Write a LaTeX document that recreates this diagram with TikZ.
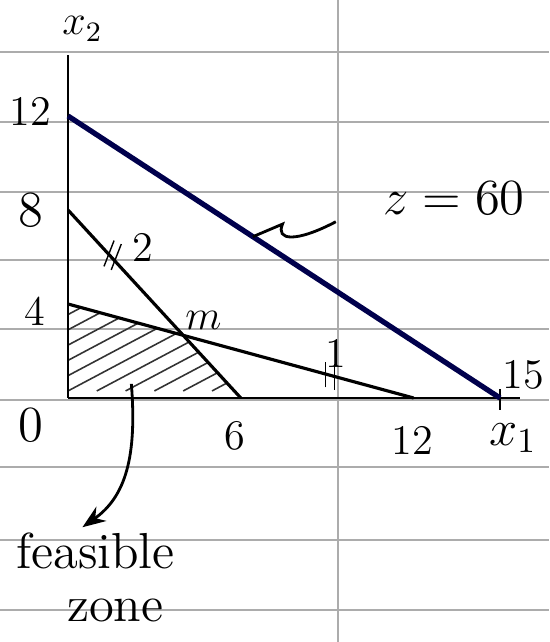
\documentclass[tikz,border=0pt]{standalone}
\usepackage{amsmath, amssymb}
\usepackage{xcolor}
\usepackage{tikz}
\usetikzlibrary{calc, positioning, arrows.meta}

\begin{document}
\begin{tikzpicture}[>=Stealth,
    paper/.style={gray!65, line width=0.5pt},
    axis/.style={black, thick},
    constr/.style={black, line width=0.9pt},
    objline/.style={blue!30!black, line width=1.5pt},
    hatch/.style={black!80, line width=0.45pt},
    lbl/.style={font=\large, inner sep=1pt},
    biglbl/.style={font=\Large, inner sep=1pt}]
    \useasboundingbox (0,0) rectangle (5.49,6.42);

    % 1. Giấy kẻ dòng
    \foreach \yy in {5.90,5.20,4.50,3.82,3.13,2.42,1.75,1.02,0.32}
        \draw[paper] (0,\yy) -- (5.49,\yy);
    \draw[paper] (3.38,0) -- (3.38,6.42);

    \begin{scope}[shift={(0.68,2.44)}, x=0.288cm, y=0.235cm]
    % 2. Các điểm chính
    \coordinate (O) at (0,0);
    \coordinate (A12) at (0,12);
    \coordinate (A8) at (0,8);
    \coordinate (A4) at (0,4);
    \coordinate (B6) at (6,0);
    \coordinate (B12) at (12,0);
    \coordinate (B15) at (15,0);
    \coordinate (M) at (4,8/3);

    % 3. Miền chấp nhận được (gạch chéo)
    \begin{scope}
        \clip (O) -- (A4) -- (M) -- (B6) -- cycle;
        \foreach \k in {-6,-5,...,6}
            \draw[hatch] (\k,0.3) -- ++(8,5.2);
    \end{scope}

    % 4. Hệ trục
    \draw[axis] (O) -- (15.7,0) coordinate (xend);
    \draw[axis] (O) -- (0,14.6) coordinate (yend);
    \draw[axis] (15,-0.5) -- (15,0.4);

    % 5. Các đường thẳng
    \draw[objline] (A12) -- (B15) coordinate[pos=0.428] (zq);
    \draw[constr] (A8) -- (B6);
    \draw[constr] (A4) -- (B12);

    % dấu trên các đường
    \draw[constr, thin] (1.25,5.6) -- ++(0.35,1.1);
    \draw[constr, thin] (1.5,5.45) -- ++(0.35,1.1);
    \draw[constr, thin] (8.95,0.45) -- ++(0,1.1);
    \draw[constr, thin] (9.25,0.35) -- ++(0,1.1);

    % 6. Nhãn
    \node[lbl] (lx2) at (0.5,15.7) {$x_2$};
    \node[lbl] (l12) at (-1.3,12.2) {12};
    \node[biglbl] (l8) at (-1.3,8.0) {8};
    \node[lbl] (l4) at (-1.15,3.7) {4};
    \node[biglbl] (l0) at (-1.3,-1.15) {0};
    \node[lbl] (l6) at (5.8,-1.6) {6};
    \node[lbl] (lb12) at (11.95,-1.8) {12};
    \node[biglbl] (lx1) at (15.45,-1.7) {$x_1$};
    \node[lbl] (l15) at (15.8,1.0) {15};
    \node[biglbl] (lz) at (13.4,8.5) {$z = 60$};
    \node[lbl] (lm) at (4.7,3.3) {$m$};
    \node[lbl] (lc2) at (2.6,6.4) {2};
    \node[lbl] (lc1) at (9.3,1.9) {1};

    % nét dẫn của z = 60
    \draw[thick] (zq) -- (7.45,7.4) .. controls (7.2,6.7) and (7.9,6.6) .. (9.3,7.5);

    % 7. Chú thích miền chấp nhận được
    \node[biglbl] (fz1) at (0.95,-6.5) {feasible};
    \node[biglbl, below=0.22cm of fz1, xshift=0.2cm] (fz2) {zone};
    \coordinate (zonefrom) at (2.2,0.6);
    \coordinate (zonetip) at (0.5,-5.5);
    \draw[->, thick] (zonefrom) .. controls (2.4,-2.5) and (2.0,-4.2) .. (zonetip);
    \end{scope}
\end{tikzpicture}
\end{document}
